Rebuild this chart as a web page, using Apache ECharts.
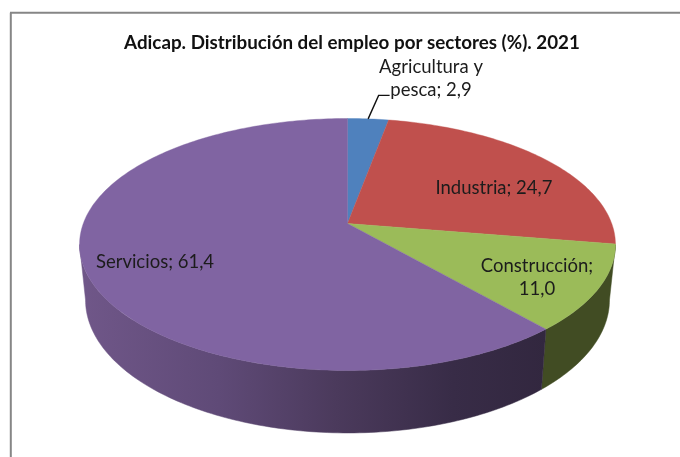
<!DOCTYPE html>
<html>
<head>
<meta charset="utf-8">
<style>html,body{margin:0;padding:0;background:#fff}#c{width:680px;height:457px}</style>
<script src="https://cdn.jsdelivr.net/npm/echarts@6/dist/echarts.min.js"></script>
</head>
<body>
<div id="c"></div>
<script>
const titleText = 'Adicap. Distribución del empleo por sectores (%). 2021';
const categories = ['Agricultura y pesca', 'Industria', 'Construcción', 'Servicios'];
const values = [2.9, 24.7, 11.0, 61.4];
const valueLabels = ['2,9', '24,7', '11,0', '61,4'];
const topColors = ['#4f81bd', '#c0504d', '#9bbb59', '#8064a2'];

// label layout (separate from data)
const labelLines = [
  ['Agricultura y', 'pesca; ' + valueLabels[0]],
  [categories[1] + '; ' + valueLabels[1]],
  [categories[2] + ';', valueLabels[2]],
  [categories[3] + '; ' + valueLabels[3]]
];
const labelAnchors = [[431, 67], [494, 188.5], [537, 266], [155, 262]];
const labelLineHeight = 23.5;

// perspective disc projection
const P = -1 / 6;
const TOP = {cx: 347.5, cy: 223.5, A: 264.2, B: 122.5};
const BOT = {cx: 347.5, cy: 277.8, A: 258.3, B: 129.3};
const project = (disc, deg) => {
  const t = deg * Math.PI / 180, u = Math.sin(t), v = -Math.cos(t), w = 1 + P * v;
  return [disc.cx + disc.A * u / w, disc.cy + disc.B * v / w];
};
const arc = (disc, a, b) => {
  const n = Math.max(2, Math.ceil(Math.abs(b - a))), pts = [];
  for (let i = 0; i <= n; i++) pts.push(project(disc, a + (b - a) * i / n));
  return pts;
};
const total = values.reduce((s, x) => s + x, 0);
const angleRange = i => {
  let s = 0;
  for (let k = 0; k < i; k++) s += values[k];
  return [s / total * 360, (s + values[i]) / total * 360];
};
const WALL_FROM = 99.6, WALL_TO = 260.4;
const wallFills = {
  2: '#414c23',
  3: new echarts.graphic.LinearGradient(0, 0, 1, 0, [
    {offset: 0, color: '#705789'},
    {offset: 0.3, color: '#5f4a77'},
    {offset: 0.55, color: '#4b3a5c'},
    {offset: 0.8, color: '#382c47'},
    {offset: 1, color: '#32273f'}
  ])
};

const seriesData = categories.map((name, i) => ({name, value: values[i]}));

const renderWall = (params) => {
  const i = params.dataIndex;
  const [a0, b0] = angleRange(i);
  const a = Math.max(a0, WALL_FROM), b = Math.min(b0, WALL_TO);
  if (b <= a) return {type: 'group', children: []};
  const fill = wallFills[i];
  const pts = arc(TOP, a, b).concat(arc(BOT, b, a));
  return {type: 'polygon', shape: {points: pts}, style: {fill: fill, stroke: fill, lineWidth: 0.5}, silent: true};
};

const renderTop = (params, api) => {
  const i = params.dataIndex;
  const [a, b] = angleRange(i);
  const pts = [[TOP.cx, TOP.cy]].concat(arc(TOP, a, b));
  const children = [{
    type: 'polygon', shape: {points: pts},
    style: {fill: topColors[i], stroke: topColors[i], lineWidth: 0.4}, z2: 1
  }];
  labelLines[i].forEach((line, k) => {
    children.push({
      type: 'text', z2: 10,
      x: labelAnchors[i][0], y: labelAnchors[i][1] + k * labelLineHeight,
      style: {text: line, fill: '#1c1c1c', font: '18.5px Lato', textAlign: 'center', textVerticalAlign: 'middle'}
    });
  });
  if (i === 0) {
    const mid = project(TOP, (a + b) / 2);
    children.push({
      type: 'polyline', z2: 10,
      shape: {points: [mid, [mid[0] + 10.5, mid[1] - 23.5], [mid[0] + 21.5, mid[1] - 23.5]]},
      style: {stroke: '#111', lineWidth: 1.4, fill: null}
    });
  }
  return {type: 'group', children};
};

const chart = echarts.init(document.getElementById('c'), null, {renderer: 'canvas'});
chart.setOption({
  animation: false,
  backgroundColor: '#fff',
  title: {
    text: titleText, left: 347, top: 28, textAlign: 'center',
    textStyle: {fontFamily: 'Lato', fontWeight: 'bold', fontSize: 18.8, color: '#111'}
  },
  graphic: [
    {type: 'line', shape: {x1: 10.8, y1: 12.8, x2: 10.8, y2: 457}, style: {stroke: '#868686', lineWidth: 2}},
    {type: 'line', shape: {x1: 10, y1: 12.8, x2: 680, y2: 12.8}, style: {stroke: '#868686', lineWidth: 2}}
  ],
  series: [
    {type: 'custom', coordinateSystem: 'none', data: seriesData, renderItem: renderWall, silent: true, z: 1},
    {type: 'custom', coordinateSystem: 'none', data: seriesData, renderItem: renderTop, silent: true, z: 2}
  ]
});
</script>
</body>
</html>
